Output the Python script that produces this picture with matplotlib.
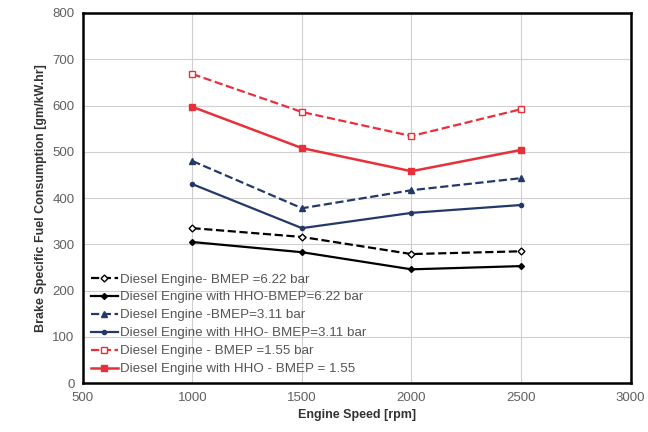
import numpy as np
import matplotlib.pyplot as plt

plt.rcParams['font.family'] = ['Liberation Sans', 'DejaVu Sans']

speed = [1000, 1500, 2000, 2500]

de_622 = [335, 316, 279, 285]
hho_622 = [305, 283, 246, 253]
de_311 = [480, 378, 417, 443]
hho_311 = [430, 335, 368, 385]
de_155 = [668, 586, 534, 592]
hho_155 = [597, 508, 458, 504]

labels = [
	'Diesel Engine- BMEP =6.22 bar',
	'Diesel Engine with HHO-BMEP=6.22 bar',
	'Diesel Engine -BMEP=3.11 bar',
	'Diesel Engine with HHO- BMEP=3.11 bar',
	'Diesel Engine - BMEP =1.55 bar',
	'Diesel Engine with HHO - BMEP = 1.55',
]

navy = '#24386b'
red = '#e8303a'

fig, ax = plt.subplots(figsize = (6.48, 4.32), dpi = 100)
fig.subplots_adjust(left = 0.128, right = 0.973, top = 0.97, bottom = 0.113)

ax.plot(speed, de_622, '--', color = 'black', lw = 1.6, marker = 'D', ms = 3.5,
	mfc = 'white', mec = 'black', label = labels[0])
ax.plot(speed, hho_622, '-', color = 'black', lw = 1.6, marker = 'D', ms = 3,
	label = labels[1])
ax.plot(speed, de_311, '--', color = navy, lw = 1.6, marker = '^', ms = 4.5,
	label = labels[2])
ax.plot(speed, hho_311, '-', color = navy, lw = 1.6, marker = 'o', ms = 3,
	label = labels[3])
ax.plot(speed, de_155, '--', color = red, lw = 1.6, marker = 's', ms = 5,
	mfc = 'white', mec = red, label = labels[4])
ax.plot(speed, hho_155, '-', color = red, lw = 1.8, marker = 's', ms = 4.5,
	label = labels[5])

ax.set_xlim(500, 3000)
ax.set_ylim(0, 800)
ax.set_xticks(np.arange(500, 3001, 500))
ax.set_yticks(np.arange(0, 801, 100))
ax.grid(True, color = '#d0d0d0', lw = 0.8)
ax.set_axisbelow(True)

for s in ax.spines.values():
	s.set_linewidth(1.8)
	s.set_color('black')
ax.tick_params(colors = '#606060', labelsize = 9.5, length = 0, pad = 6)

ax.set_xlabel('Engine Speed [rpm]', fontsize = 9, fontweight = 'bold', color = '#333333')
ax.set_ylabel('Brake Specific Fuel Consumption [gm/kW.hr]', fontsize = 9,
	fontweight = 'bold', color = '#333333')

ax.legend(loc = 'lower left', frameon = False, fontsize = 9.6, handlelength = 2.0,
	handletextpad = 0.15, labelspacing = 0.42, borderaxespad = 0.2, labelcolor = '#555555')

plt.savefig('out.png', dpi = 100)
